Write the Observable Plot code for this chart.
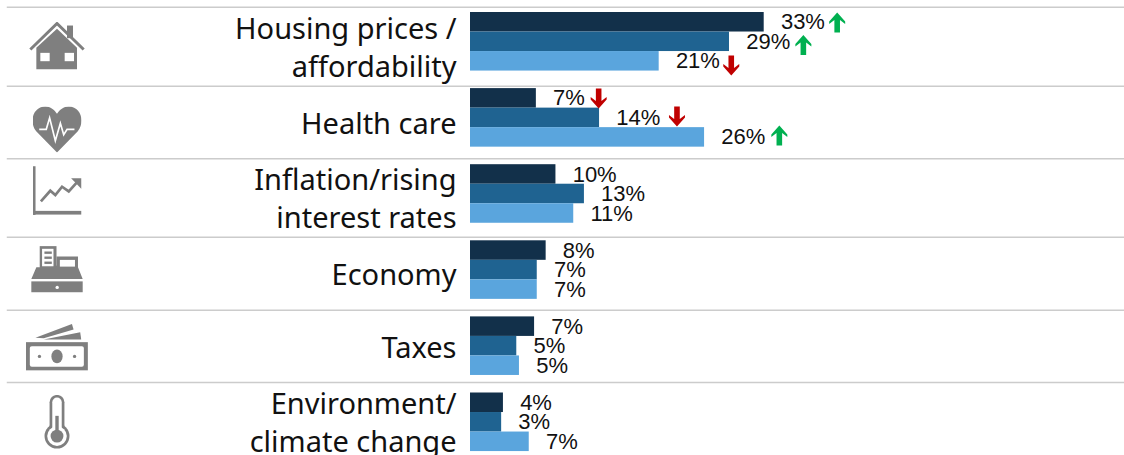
<!DOCTYPE html>
<html>
<head>
<meta charset="utf-8">
<script src="https://cdn.jsdelivr.net/npm/d3@7"></script>
<script src="https://cdn.jsdelivr.net/npm/@observablehq/plot@0.6"></script>
<style>
html,body{margin:0;padding:0;background:#fff;overflow:hidden}
svg{display:block}
</style>
</head>
<body>
<div id="chart"></div>
<script>
const categories = ["Housing prices /\naffordability","Health care","Inflation/rising\ninterest rates","Economy","Taxes","Environment/\nclimate change"];
const categoryY = [0.433,1.443,2.417,3.416,4.375,5.36];
const series = ["A","B","C"];
const seriesColors = ["#12304a","#1f6391","#5aa5dd"];
const valuesA = [33,7.4,9.6,8.5,7.2,3.7];
const valuesB = [29.1,14.5,12.8,7.5,5.2,3.5];
const valuesC = [21.2,26.3,11.6,7.5,5.5,6.6];
const labelsA = ["33%","7%","10%","8%","7%","4%"];
const labelsB = ["29%","14%","13%","7%","5%","3%"];
const labelsC = ["21%","26%","11%","7%","5%","7%"];
const separators = [-0.069,0.97,1.922,2.953,3.911,4.862];
const arrowsUp = [[41.2,0.131],[37.4,0.427],[34.7,1.616]];
const arrowsDown = [[29.3,0.696],[14.4,1.13],[23.2,1.367]];
const G = "#7f7f7f";
const iconSvgs = [
 `<svg xmlns="http://www.w3.org/2000/svg" viewBox="87 63 166 144"><polyline points="90,147 170,69 250,147" fill="none" stroke="${G}" stroke-width="9"/><rect x="200" y="75" width="18" height="38" fill="${G}"/><polygon points="108,207 108,142 170,85 230,142 230,207" fill="${G}"/><rect x="120" y="157" width="28" height="25" fill="#fff"/><rect x="193" y="157" width="28" height="25" fill="#fff"/></svg>`,
 `<svg xmlns="http://www.w3.org/2000/svg" viewBox="97 318 146 137"><path d="M170 455L108 392C85 362 100 318 135 318C150 318 163 328 170 340C177 328 190 318 205 318C240 318 255 362 232 392Z" fill="${G}"/><polyline points="117,386 138,386 148,352 165,420 180,368 190,402 200,386 222,386" fill="none" stroke="#fff" stroke-width="5"/></svg>`,
 `<svg xmlns="http://www.w3.org/2000/svg" viewBox="97 497 146 145"><rect x="97" y="497" width="9" height="145" fill="${G}"/><rect x="97" y="630" width="146" height="11" fill="${G}"/><polyline points="122,602 150,570 165,583 185,558 205,572 232,542" fill="none" stroke="${G}" stroke-width="8"/><polygon points="212,533 243,533 243,565" fill="${G}"/></svg>`,
 `<svg xmlns="http://www.w3.org/2000/svg" viewBox="92 45 155 140"><rect x="118" y="47" width="50" height="65" fill="${G}"/><rect x="125" y="55" width="34" height="52" fill="#fff"/><rect x="132" y="63" width="22" height="7" fill="${G}"/><rect x="132" y="78" width="22" height="7" fill="${G}"/><rect x="132" y="93" width="22" height="7" fill="${G}"/><polygon points="168,78 232,78 232,110 246,145 93,145 108,110 160,110 168,105" fill="${G}"/><rect x="178" y="88" width="45" height="20" fill="#fff"/><rect x="93" y="152" width="153" height="33" fill="${G}"/><circle cx="170" cy="170" r="5" fill="#fff"/></svg>`,
 `<svg xmlns="http://www.w3.org/2000/svg" viewBox="75 278 190 143"><polygon points="105,322 215,280 220,297 130,323" fill="${G}"/><polygon points="130,327 240,305 243,327" fill="${G}"/><rect x="75" y="335" width="188" height="85" fill="${G}"/><rect x="88" y="347" width="163" height="62" rx="6" fill="#fff"/><ellipse cx="170" cy="378" rx="17" ry="21" fill="${G}"/><circle cx="117" cy="378" r="5" fill="${G}"/><circle cx="223" cy="378" r="5" fill="${G}"/></svg>`,
 `<svg xmlns="http://www.w3.org/2000/svg" viewBox="132 495 76 160"><rect x="148" y="495" width="44" height="125" rx="22" fill="${G}"/><circle cx="170" cy="617" r="37" fill="${G}"/><rect x="156" y="503" width="28" height="120" rx="14" fill="#fff"/><circle cx="170" cy="617" r="29" fill="#fff"/><rect x="165" y="557" width="10" height="60" fill="${G}"/><circle cx="170" cy="617" r="19" fill="${G}"/></svg>`
];
const iconSizes = [56,49,49,53,63,26];
const iconHeights = [48,46,49,47,48,54];
const iconY = [0.434,1.537,2.34,3.37,4.395,5.38];
const iconX = -46.46;

const slot = 0.2565;
const valueSets = [valuesA,valuesB,valuesC];
const labelSets = [labelsA,labelsB,labelsC];
const rows = [];
categories.forEach((c,r)=>series.forEach((s,i)=>rows.push({
  cat:c, s, value:valueSets[i][r], label:labelSets[i][r], y1:r+i*slot, y2:r+(i+1)*slot, yc:r+(i+.5)*slot
})));
const arrowSymbol = dir => ({draw(ctx,size){
  const k = Math.sqrt(size)/10;
  const p = [[0,-10],[8,-1],[8,1.5],[2.8,-2.5],[2.8,10],[-2.8,10],[-2.8,-2.5],[-8,1.5],[-8,-1]];
  p.forEach(([a,b],i)=>{ b=b*dir; i? ctx.lineTo(a*k,b*k) : ctx.moveTo(a*k,b*k); });
  ctx.closePath();
}});
const labelFont = "Noto Sans";
const plot = Plot.plot({
  width:1124, height:455,
  marginTop:0, marginBottom:0, marginLeft:0, marginRight:0,
  style:{background:"#fff"},
  x:{domain:[-470/8.9,(1124-470)/8.9], range:[0,1124], axis:null},
  y:{domain:[-12/76.1,443/76.1], range:[0,455], axis:null},
  marks:[
    Plot.ruleY(separators,{x1:-52.05,x2:73.5,stroke:"#cccccc",strokeWidth:1.5}),
    Plot.rectX(rows,{x1:0,x2:"value",y1:"y1",y2:"y2",fill:d=>seriesColors[series.indexOf(d.s)]}),
    Plot.text(rows,{x:"value",y:"yc",text:"label",textAnchor:"start",dx:16.7,fontSize:22,fontFamily:"Liberation Sans",fill:"#111"}),
    Plot.dot(arrowsUp,{x:d=>d[0],y:d=>d[1],symbol:arrowSymbol(1),r:5.64,fill:"#00b050",stroke:"none"}),
    Plot.dot(arrowsDown,{x:d=>d[0],y:d=>d[1],symbol:arrowSymbol(-1),r:5.64,fill:"#c00000",stroke:"none"}),
    Plot.text(categories,{x:-1.57,y:(d,i)=>categoryY[i],text:d=>d,textAnchor:"end",lineAnchor:"middle",lineHeight:1.31,fontSize:29,fontFamily:labelFont,fill:"#111"}),
    ...iconSvgs.map((svg,i)=>Plot.image([i],{x:iconX,y:iconY[i],width:iconSizes[i],height:iconHeights[i],src:()=>"data:image/svg+xml;charset=utf-8,"+encodeURIComponent(svg)}))
  ]
});
document.getElementById("chart").appendChild(plot);
</script>
</body>
</html>
